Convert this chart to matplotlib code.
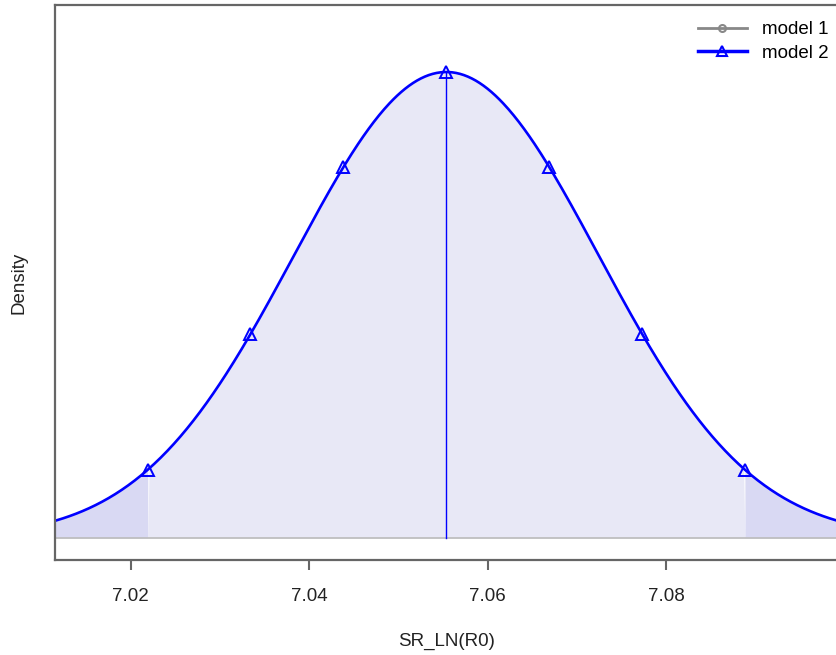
import numpy as np
import matplotlib
matplotlib.use("Agg")
import matplotlib.pyplot as plt
from matplotlib.lines import Line2D

plt.rcParams['font.family'] = ['Liberation Sans', 'DejaVu Sans']

# estimated distribution parameters for model 2
mean = 7.05535
sd = 0.01707
# quantile points marked on the curve (x positions)
marker_x = [7.0219, 7.0334, 7.0438, 7.05535, 7.0669, 7.0773, 7.0888]
ci_low, ci_high = 7.0219, 7.0888
x_min, x_max = 7.0115, 7.0992
xticks = [7.02, 7.04, 7.06, 7.08]
xtick_labels = ["7.02", "7.04", "7.06", "7.08"]
legend_labels = ["model 1", "model 2"]

def pdf(x):
    return np.exp(-0.5 * ((np.asarray(x) - mean) / sd) ** 2) / (sd * np.sqrt(2 * np.pi))

fig = plt.figure(figsize=(8.36, 6.55), dpi=100)
ax = fig.add_axes([55/836, 1-560/655, 1.0-55/836 + 0.002, (560-5)/655])

xs = np.linspace(x_min, x_max, 600)
ys = pdf(xs)
peak = pdf(mean)

fill_mid = "#E8E8F6"
fill_tail = "#D9D9F3"
ax.fill_between(xs, 0, ys, where=(xs >= ci_low) & (xs <= ci_high), color=fill_mid, lw=0, interpolate=True)
ax.fill_between(xs, 0, ys, where=(xs <= ci_low), color=fill_tail, lw=0, interpolate=True)
ax.fill_between(xs, 0, ys, where=(xs >= ci_high), color=fill_tail, lw=0, interpolate=True)
ax.axhline(0, color="#BBBBBB", lw=1.2)
ax.plot(xs, ys, color="#0000FF", lw=1.9)
ax.plot([mean, mean], [0, peak], color="#0000FF", lw=1.0)
mx = np.array(marker_x)
ax.plot(mx, pdf(mx), linestyle="none", marker="^", markersize=8,
        markerfacecolor="none", markeredgecolor="#0000FF", markeredgewidth=1.4)

ax.set_xlim(x_min, x_max)
rng = peak / 466.0
ax.set_ylim(-22 * rng, 533 * rng)
ax.set_yticks([])
ax.set_xticks(xticks)
ax.set_xticklabels(xtick_labels, fontsize=13.5, color="#222222")
ax.tick_params(axis="x", direction="out", length=7.5, width=1.5, color="#666666", pad=13)
for s in ax.spines.values():
    s.set_color("#666666")
    s.set_linewidth(1.6)

ax.set_xlabel("SR_LN(R0)", fontsize=13.5, color="#222222", labelpad=20)
ax.set_ylabel("Density", fontsize=13.5, color="#222222", labelpad=20)

handles = [
    Line2D([], [], color="#888888", lw=2, marker="o", markersize=5,
           markerfacecolor="none", markeredgecolor="#888888", markeredgewidth=1.5),
    Line2D([], [], color="#0000FF", lw=2.5, marker="^", markersize=7,
           markerfacecolor="none", markeredgecolor="#0000FF", markeredgewidth=1.5),
]
fig.legend(handles, legend_labels, loc="upper right", bbox_to_anchor=(1.02, 1.005),
           frameon=False, fontsize=13.5, handlelength=2.6, handletextpad=0.8,
           labelspacing=0.35, borderaxespad=0.9)

fig.savefig("out.png", dpi=100)
